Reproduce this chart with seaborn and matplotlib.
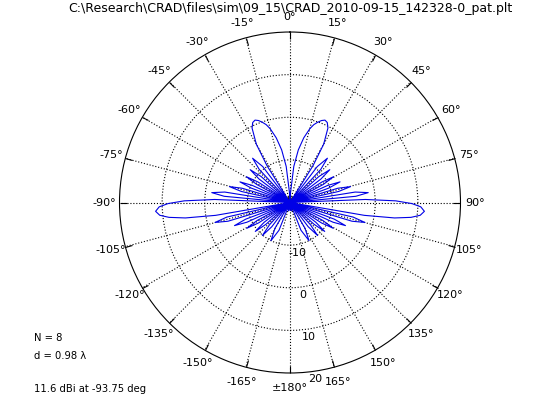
import numpy as np
import matplotlib
matplotlib.use("Agg")
import matplotlib.pyplot as plt
import seaborn as sns

# antenna pattern: angle (deg, clockwise from top) and gain (dBi)
# left half, -180 .. 0
left_deg = [-180, -175.0, -171.0, -167.0, -163.4,
            -158.4, -153.5, -149.8, -146.2,
            -143.1, -140.1, -137.4, -134.7,
            -132.2, -129.8, -127.4, -125.1,
            -123.0, -120.8, -118.7, -116.6,
            -114.6, -112.6, -110.6, -108.7,
            -106.8, -104.9, -103.0, -101.1,
            -99.8, -98.4, -97.0, -95.6, -93.75, -91.9, -90.5, -89.1, -87.7, -86.4,
            -84.6, -82.8, -80.9, -79.1,
            -77.2, -75.3, -73.4, -71.5,
            -69.6, -67.6, -65.6, -63.6,
            -61.5, -59.4, -57.3, -55.1,
            -52.8, -50.5, -48.0, -45.6,
            -42.9, -40.2, -37.2, -34.2,
            -32, -30, -27, -25, -23, -21, -19, -17, -15, -12, -9, -6, -3, 0]
left_dbi = [-20, -19.0, -18.0, -19.0, -20,
            -13.0, -10.0, -13.0, -20,
            -12.9, -9.9, -12.9, -20,
            -12.4, -9.4, -12.4, -20,
            -11.2, -8.2, -11.2, -20,
            -8.9, -5.9, -8.9, -20,
            -4.8, -1.8, -4.8, -20,
            -2.3, 4.8, 8.6, 10.7, 11.6, 10.7, 8.6, 4.8, -2.3, -20,
            -4.5, -1.5, -4.5, -20,
            -8.3, -5.3, -8.3, -20,
            -10.3, -7.3, -10.3, -20,
            -11.1, -8.1, -11.1, -20,
            -10.9, -7.9, -10.9, -20,
            -9.4, -6.4, -9.4, -20,
            -9.8, -4.2, -0.4, 0.7, 1.0, 0.6, -0.1, -0.9, -2.1, -4.5, -7.5, -11.5, -17.7, -20]

# right half, 0 .. 180
right_deg = [0, 3, 6, 9, 12, 15, 17, 19, 21, 23, 25, 27, 30, 32, 34.2,
             37.2, 40.2, 42.9, 45.6,
             48.0, 50.5, 52.8, 55.1,
             57.3, 59.4, 61.5, 63.6,
             65.6, 67.6, 69.6, 71.5,
             73.4, 75.3, 77.2, 79.1,
             80.9, 82.8, 84.6, 86.4,
             87.7, 89.1, 90.5, 91.9, 93.75, 95.6, 97.0, 98.4, 99.8, 101.1,
             103.0, 104.9, 106.8, 108.7,
             110.6, 112.6, 114.6, 116.6,
             118.7, 120.8, 123.0, 125.1,
             127.4, 129.8, 132.2, 134.7,
             137.4, 140.1, 143.1, 146.2,
             149.8, 153.5, 158.4, 163.4,
             167.0, 171.0, 175.0, 180]
right_dbi = [-20, -17.7, -11.5, -7.5, -4.5, -2.1, -0.9, -0.1, 0.6, 1.0, 0.7, -0.4, -4.2, -9.8, -20,
             -9.4, -6.4, -9.4, -20,
             -10.9, -7.9, -10.9, -20,
             -11.1, -8.1, -11.1, -20,
             -10.3, -7.3, -10.3, -20,
             -8.3, -5.3, -8.3, -20,
             -4.5, -1.5, -4.5, -20,
             -2.3, 4.8, 8.6, 10.7, 11.6, 10.7, 8.6, 4.8, -2.3, -20,
             -4.8, -1.8, -4.8, -20,
             -8.9, -5.9, -8.9, -20,
             -11.2, -8.2, -11.2, -20,
             -12.4, -9.4, -12.4, -20,
             -12.9, -9.9, -12.9, -20,
             -13.0, -10.0, -13.0, -20,
             -19.0, -18.0, -19.0, -20]

ring_db = [-10, 0, 10, 20]
angle_ticks = list(range(-165, 181, 15))
title = r"C:\Research\CRAD\files\sim\09_15\CRAD_2010-09-15_142328-0_pat.plt"
notes = ["N = 8", "d = 0.98 \u03bb", "11.6 dBi at -93.75 deg"]

sns.set_style("white")
plt.rcParams["font.family"] = ["DejaVu Sans"]
plt.rcParams["text.color"] = "black"

fig = plt.figure(figsize=(5.6, 4.2), dpi=100)
ax = fig.add_axes([0.2134, 0.1119, 0.6089, 0.8119], projection="polar")
ax.set_theta_zero_location("N")
ax.set_theta_direction(-1)

deg = np.array(left_deg + right_deg)
dbi = np.array(left_dbi + right_dbi)
sns.lineplot(x=np.deg2rad(deg), y=dbi, sort=False, estimator=None,
             color="#0000e6", linewidth=0.8, ax=ax)

ax.set_ylim(-20, 20)
ax.set_yticks(ring_db[:-1])
ax.set_yticklabels([])
ax.set_xticks(np.deg2rad(np.arange(0, 360, 15)))
ax.set_xticklabels([])
ax.set_xlabel("")
ax.set_ylabel("")
ax.grid(True, color="k", linestyle=":", linewidth=0.8)
ax.spines["polar"].set_color("k")
ax.spines["polar"].set_linewidth(0.8)
# small inward ticks on the rim every 15 deg
ax.tick_params(axis="x", which="major", bottom=True, top=True, direction="in",
               length=5, width=0.8, colors="k", pad=0)

# angle labels around the rim
for a in angle_ticks:
    lab = "\u00b1180\u00b0" if a == 180 else f"{a}\u00b0"
    ax.text(np.deg2rad(a), 23.5, lab, ha="center", va="center", fontsize=8, clip_on=False)

# ring labels just right of the bottom spoke
for v in ring_db:
    ax.text(np.deg2rad(172), v + 1.9, str(v), ha="center", va="center", fontsize=8, clip_on=False)

fig.text(0.518, 0.979, title, ha="center", va="center", fontsize=9)
fig.text(34 / 560, 1 - 338 / 420, notes[0], ha="left", va="center", fontsize=7.2)
fig.text(34 / 560, 1 - 356 / 420, notes[1], ha="left", va="center", fontsize=7.2)
fig.text(34 / 560, 1 - 389 / 420, notes[2], ha="left", va="center", fontsize=7.2)

fig.savefig("out.png", dpi=100)
